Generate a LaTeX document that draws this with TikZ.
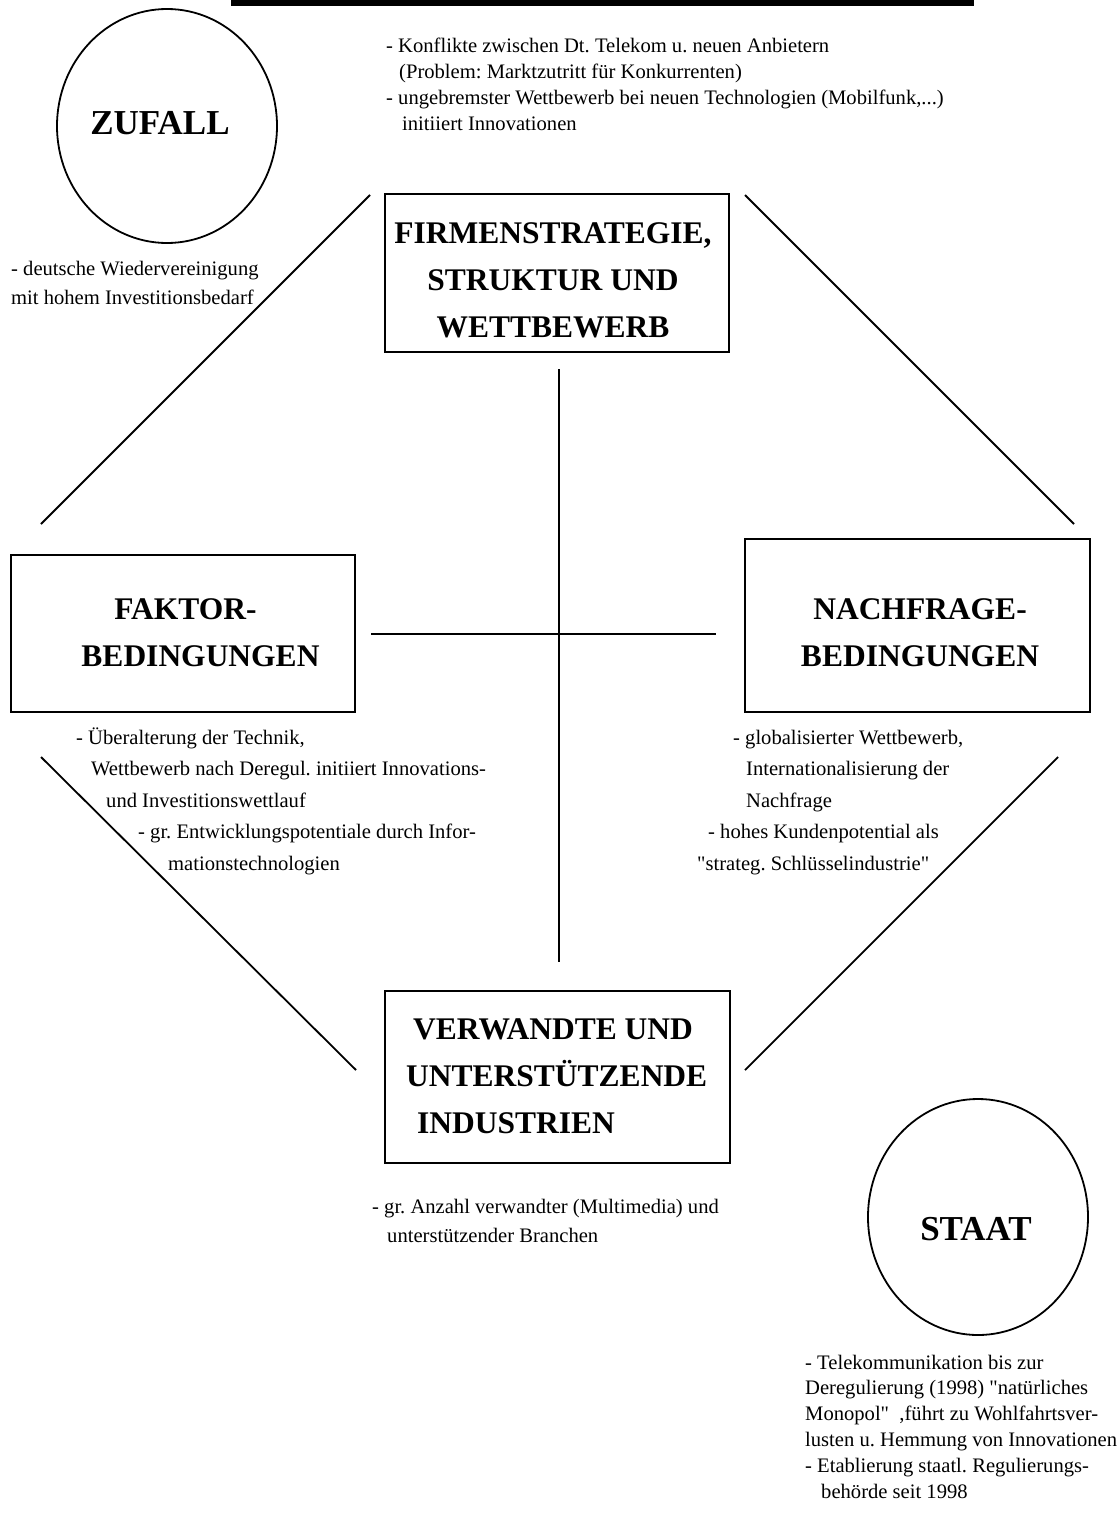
\documentclass[tikz,border=0pt]{standalone}
\usepackage{fontspec}
\usetikzlibrary{shapes.geometric}
\setmainfont{Liberation Serif}[Ligatures=TeXOff]
\frenchspacing
\begin{document}
\begin{tikzpicture}[x=1pt,y=-1pt,
  frame/.style={draw,line width=1.8pt,rectangle,inner sep=0pt},
  ring/.style={draw,line width=1.8pt,ellipse,inner sep=0pt},
  link/.style={line width=1.8pt},
  headtext/.style={font=\fontsize{31.5}{47}\selectfont\bfseries,align=center,anchor=base,inner sep=0pt},
  circtext/.style={font=\fontsize{35}{40}\selectfont\bfseries,inner sep=0pt},
  note/.style={align=left,anchor=base west,inner sep=0pt}]
\useasboundingbox (0,0) rectangle (1119,1526);
% title bar
\fill (231,0) rectangle (974,6);

% boxes
\node[frame,minimum width=344pt,minimum height=158pt] (firm) at (557,273) {};
\node[frame,minimum width=344pt,minimum height=157pt] (faktor) at (183,633.5) {};
\node[frame,minimum width=345pt,minimum height=173pt] (nachfrage) at (917.5,625.5) {};
\node[frame,minimum width=345pt,minimum height=172pt] (verwandt) at (557.5,1077) {};

% box captions (anchored at the baseline of their last line)
\node[headtext] (firmtext) at (553,337) {FIRMENSTRATEGIE,\\STRUKTUR UND\\WETTBEWERB};
\node[headtext] (faktortext) at (200.5,666) {\hspace*{-30pt}FAKTOR-\\BEDINGUNGEN};
\node[headtext] (nachfragetext) at (920,666) {NACHFRAGE-\\BEDINGUNGEN};
\node[headtext,align=left,anchor=base west] (verwandttext) at (406,1133) {\hspace*{7pt}VERWANDTE UND\\UNTERSTÜTZENDE\\\hspace*{11pt}INDUSTRIEN};

% circles
\node[ring,minimum width=220pt,minimum height=234pt] (zufall) at (167,126) {};
\node[circtext] (zufalltext) at (160,123) {ZUFALL};
\node[ring,minimum width=220pt,minimum height=236pt] (staat) at (978,1217) {};
\node[circtext] (staattext) at (976,1229) {STAAT};

% connectors
\coordinate (d1a) at (41,524);  \coordinate (d1b) at (370,195);
\coordinate (d2a) at (745,195); \coordinate (d2b) at (1074,524);
\coordinate (d3a) at (41,757);  \coordinate (d3b) at (356,1070);
\coordinate (d4a) at (1058,757); \coordinate (d4b) at (745,1070);
\coordinate (v1) at (559,369);  \coordinate (v2) at (559,962);
\coordinate (h1) at (371,634);  \coordinate (h2) at (716,634);
\draw[link] (d1a) -- (d1b);
\draw[link] (d2a) -- (d2b);
\draw[link] (d3a) -- (d3b);
\draw[link] (d4a) -- (d4b);
\draw[link] (v1) -- (v2);
\draw[link] (h1) -- (h2);

% notes (anchored at the baseline of their last line)
\node[note,font=\fontsize{20.6}{25.7}\selectfont] (n1) at (386,130) {- Konflikte zwischen Dt. Telekom u. neuen Anbietern\\
\hspace*{13pt}(Problem: Marktzutritt für Konkurrenten)\\
- ungebremster Wettbewerb bei neuen Technologien (Mobilfunk,...)\\
\hspace*{16pt}initiiert Innovationen};
\node[note,font=\fontsize{20.6}{28.5}\selectfont] (n2) at (11,304) {- deutsche Wiedervereinigung\\mit hohem Investitionsbedarf};
\node[note,font=\fontsize{20.6}{31.5}\selectfont] (n3) at (76,870) {- Überalterung der Technik,\\
\hspace*{15pt}Wettbewerb nach Deregul. initiiert Innovations-\\
\hspace*{30pt}und Investitionswettlauf\\
\hspace*{62pt}- gr. Entwicklungspotentiale durch Infor-\\
\hspace*{92pt}mationstechnologien};
\node[note,font=\fontsize{20.6}{31.5}\selectfont] (n4) at (733,870) {- globalisierter Wettbewerb,\\
\hspace*{13pt}Internationalisierung der\\
\hspace*{13pt}Nachfrage\\
\hspace*{-25pt}- hohes Kundenpotential als\\
\hspace*{-36pt}"strateg. Schlüsselindustrie"};
\node[note,font=\fontsize{20.6}{29}\selectfont] (n5) at (372,1242) {- gr. Anzahl verwandter (Multimedia) und\\
\hspace*{15pt}unterstützender Branchen};
\node[note,font=\fontsize{20.6}{25.8}\selectfont] (n6) at (805,1498) {- Telekommunikation bis zur\\
Deregulierung (1998) "natürliches\\
Monopol"~~,führt zu Wohlfahrtsver-\\
lusten u. Hemmung von Innovationen\\
- Etablierung staatl. Regulierungs-\\
\hspace*{16pt}behörde seit 1998};
\end{tikzpicture}
\end{document}
